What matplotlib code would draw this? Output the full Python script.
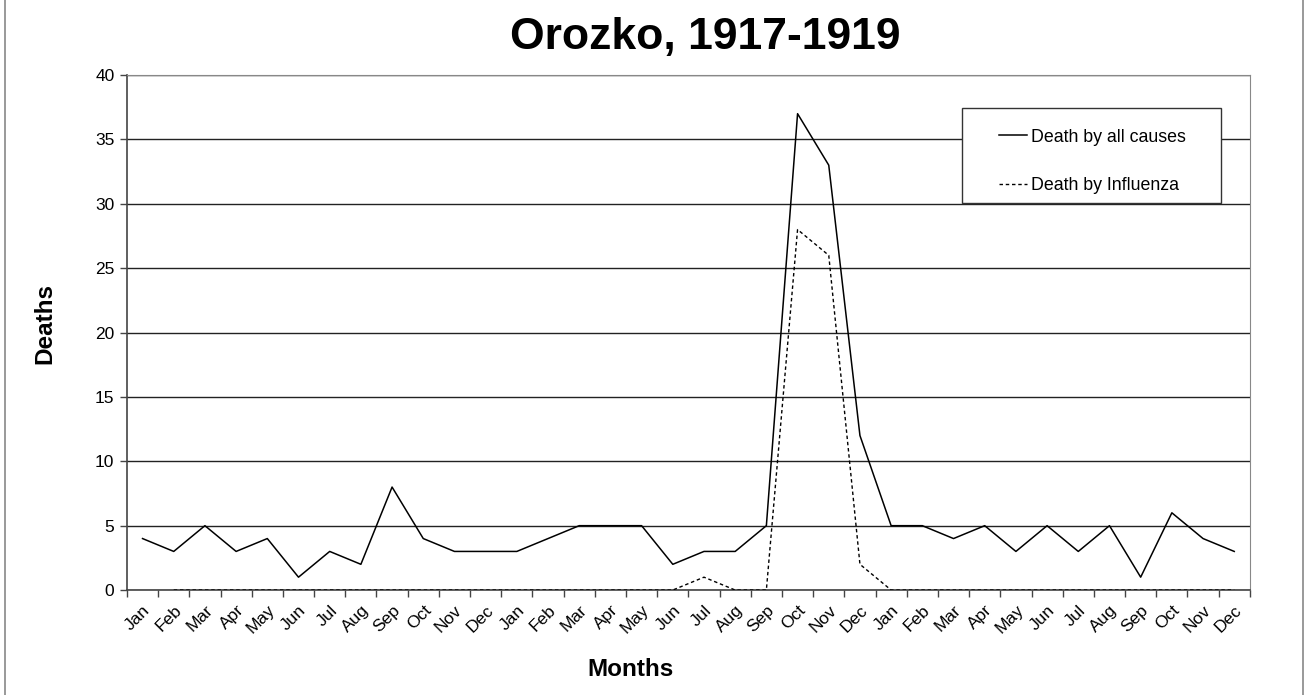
import matplotlib.pyplot as plt
import numpy as np
from matplotlib.lines import Line2D
from matplotlib.patches import Rectangle

plt.rcParams['font.family'] = ['Liberation Sans', 'DejaVu Sans']

months = ["Jan", "Feb", "Mar", "Apr", "May", "Jun",
          "Jul", "Aug", "Sep", "Oct", "Nov", "Dec"] * 3

# Jan 1917 .. Dec 1919
all_causes = [4, 3, 5, 3, 4, 1, 3, 2, 8, 4, 3, 3,
              3, 4, 5, 5, 5, 2, 3, 3, 5, 37, 33, 12,
              5, 5, 4, 5, 3, 5, 3, 5, 1, 6, 4, 3]
influenza = [np.nan, 0, 0, 0, 0, 0, 0, 0, 0, 0, 0, 0,
             0, 0, 0, 0, 0, 0, 1, 0, 0, 28, 26, 2,
             0, 0, 0, 0, 0, 0, 0, 0, 0, 0, 0, 0]

fig = plt.figure(figsize=(13.06, 6.95), dpi=100)
ax = fig.add_axes([0.0972, 0.151, 0.8598, 0.741])

x = np.arange(len(months))
ax.plot(x, all_causes, color="black", lw=1.1, zorder=4, label="Death by all causes")
ax.plot(x, influenza, color="black", lw=1.0, ls=(0, (2.5, 2)), zorder=4,
        label="Death by Influenza")

ax.set_xlim(-0.5, len(months) - 0.5)
ax.set_ylim(0, 40)
ax.set_yticks(range(0, 41, 5))
ax.yaxis.grid(True, color="#222222", lw=1.0)
ax.set_axisbelow(True)

ax.set_xticks(x)
ax.set_xticklabels(months, rotation=45, ha="right", rotation_mode="anchor", fontsize=12.5)
ax.set_xticks(np.arange(-0.5, len(months)), minor=True)
ax.tick_params(axis="x", which="major", length=0, pad=9)
ax.tick_params(axis="x", which="minor", length=5, width=1, color="#444444", direction="out")
ax.tick_params(axis="y", length=5, width=1, color="#444444", labelsize=12.5, pad=4)

for side in ["top", "right"]:
    ax.spines[side].set_color("#888888")
for side in ["left", "bottom"]:
    ax.spines[side].set_color("#444444")
    ax.spines[side].set_linewidth(1.2)

ax.set_ylabel("Deaths", fontsize=17.5, fontweight="bold")
ax.yaxis.set_label_coords(-0.063, 0.518)
ax.set_xlabel("Months", fontsize=17.5, fontweight="bold")
ax.xaxis.set_label_coords(0.448, -0.132)
fig.suptitle("Orozko, 1917-1919", fontsize=32, fontweight="bold", x=0.54, y=0.975)

# legend box
ax.add_patch(Rectangle((0.7435, 0.751), 0.2305, 0.185, transform=ax.transAxes,
                       facecolor="white", edgecolor="#333333", lw=1.0, zorder=5))
leg = ax.legend(loc="upper left", bbox_to_anchor=(0.762, 0.927), frameon=False,
                fontsize=12.8, handlelength=1.6, handletextpad=0.2, labelspacing=1.75)
leg.set_zorder(6)

# outer chart frame
fig.add_artist(Line2D([5 / 1306, 5 / 1306], [0, 1], color="#888888", lw=1.2))
fig.add_artist(Line2D([1303 / 1306, 1303 / 1306], [0, 1], color="#888888", lw=1.2))

fig.savefig("out.png", dpi=100)
